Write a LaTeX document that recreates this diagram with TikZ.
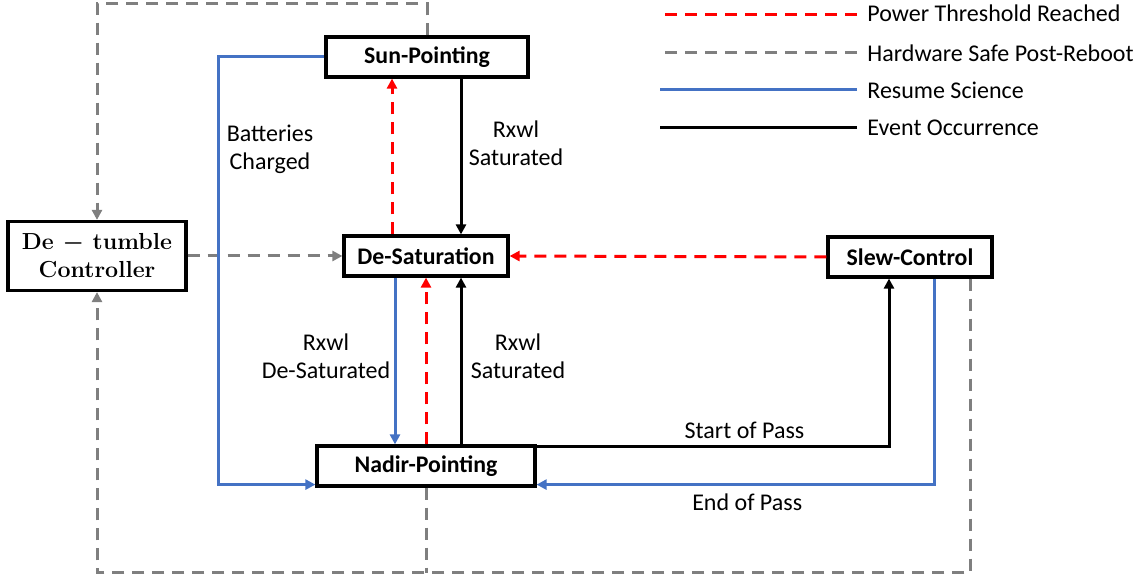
\documentclass[tikz,border=0pt]{standalone}
\usepackage{fontspec}
\setsansfont{Carlito}
\usetikzlibrary{arrows.meta}

\definecolor{resumeblue}{HTML}{4472C4}
\definecolor{safegray}{HTML}{7F7F7F}

\begin{document}
\begin{tikzpicture}[x=0.5pt,y=-0.5pt,font=\sffamily,
  >={Triangle[length=5pt,width=5pt]},
  state/.style={draw=black,line width=1.6pt,fill=white,inner sep=0pt,
    font=\sffamily\bfseries\fontsize{11.9}{13}\selectfont},
  lbl/.style={inner sep=1pt,align=center,font=\sffamily\fontsize{12}{14}\selectfont},
  power/.style={draw=red,line width=1.5pt,dash pattern=on 6pt off 4pt},
  safe/.style={draw=safegray,line width=1.5pt,dash pattern=on 6pt off 4pt},
  resume/.style={draw=resumeblue,line width=1.5pt},
  event/.style={draw=black,line width=1.5pt}]

\useasboundingbox (0,0) rectangle (1146,581);

%states
\node[state,minimum width=101pt,minimum height=20pt] (sun) at (427,57) {Sun-Pointing};
\node[state,minimum width=82pt,minimum height=20pt] (desat) at (426,256) {De-Saturation};
\node[state,minimum width=82pt,minimum height=20pt] (slew) at (910,257) {Slew-Control};
\node[state,minimum width=109pt,minimum height=20pt] (nadir) at (426,466) {Nadir-Pointing};
\node[state,minimum width=89pt,minimum height=34.5pt,align=center,
  font=\rmfamily\bfseries\boldmath\fontsize{11.6}{14}\selectfont] (detumble) at (97,256) {De $-$ tumble\\Controller};

\coordinate (roof) at (0,4);
\coordinate (floor) at (0,573);

%hardware safe
\draw[safe,->] (sun.north) |- (roof -| detumble.north) -- (detumble.north);
\draw[safe,->] ([xshift=30pt]slew.south) |- (floor -| detumble.south) -- (detumble.south);
\draw[safe] (nadir.south) -- (nadir.south |- floor);
\draw[safe,->] (detumble.east) -- (desat.west);

%power threshold
\draw[power,->] ([xshift=-17pt]desat.north) -- ([xshift=-17pt]desat.north |- sun.south);
\draw[power,->] (nadir.north) -- (desat.south);
\draw[power,->] (slew.west) -- (desat.east);

%resume science
\draw[resume,->] (sun.west) -- ++(-53pt,0) |- ([yshift=1.5pt]nadir.south west);
\draw[resume,->] ([xshift=-15.5pt]desat.south) -- ([xshift=-15.5pt]desat.south |- nadir.north);
\draw[resume,->] ([xshift=12pt]slew.south) |- ([yshift=1.5pt]nadir.south east)
  node[lbl,below=3pt,pos=0.735] (endpass) {End of Pass};

%events
\draw[event,->] ([xshift=17.5pt]desat.north |- sun.south) -- ([xshift=17.5pt]desat.north);
\draw[event,->] ([xshift=17.5pt]nadir.north) -- ([xshift=17.5pt]desat.south);
\draw[event,->] ([yshift=-1pt]nadir.north east) -| ([xshift=-10.5pt]slew.south)
  node[lbl,above=2pt,pos=0.295] (startpass) {Start of Pass};

%labels
\node[lbl] (charged) at (270,149) {Batteries\\Charged};
\node[lbl] (satup) at (516,143) {Rxwl\\Saturated};
\node[lbl] (desatd) at (326,356) {Rxwl\\De-Saturated};
\node[lbl] (satlow) at (518,356) {Rxwl\\Saturated};

%legend
\node[lbl,anchor=west] (legpower) at (865,13) {Power Threshold Reached};
\node[lbl,anchor=west] (legsafe) at (865,53) {Hardware Safe Post-Reboot};
\node[lbl,anchor=west] (legresume) at (865,90) {Resume Science};
\node[lbl,anchor=west] (legevent) at (865,128) {Event Occurrence};
\draw[power] ([xshift=-4pt,yshift=-1pt]legpower.west) -- ++(-98.5pt,0);
\draw[safe] ([xshift=-4pt]legsafe.west) -- ++(-98.5pt,0);
\draw[resume] ([xshift=-4pt]legresume.west) -- ++(-98.5pt,0);
\draw[event] ([xshift=-4pt]legevent.west) -- ++(-98.5pt,0);

\end{tikzpicture}
\end{document}
